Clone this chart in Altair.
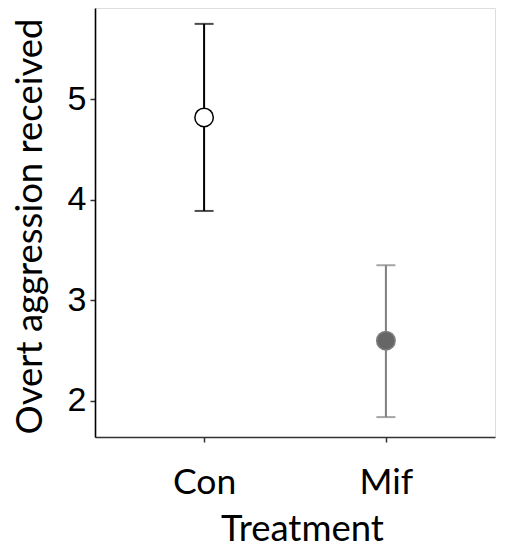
import altair as alt
import pandas as pd

treatment = ["Con", "Mif"]
mean = [4.82, 2.60]
upper = [5.75, 3.35]
lower = [3.89, 1.84]
point_fill = ["white", "#666666"]
bar_color = ["black", "#7f7f7f"]

df = pd.DataFrame({"Treatment": treatment, "mean": mean, "upper": upper,
                   "lower": lower, "fill": point_fill, "col": bar_color})
star = pd.DataFrame({"t": ["*"]})

YDOM = [1.642, 5.908]
xs = alt.Scale(type="point", domain=treatment, padding=0.6)
ys = alt.Scale(domain=YDOM, nice=False, zero=False)

x = alt.X("Treatment:N", scale=xs, axis=alt.Axis(
    title="Treatment", labelAngle=0, labelFont="Lato", labelFontSize=35.5,
    labelColor="black", labelBaseline="alphabetic", labelPadding=51,
    titleFont="Lato", titleFontSize=36.5, titleFontWeight="normal", titleColor="black",
    titleX=207, titleY=103, titleBaseline="alphabetic", titleAlign="center", titleAnchor="middle",
    domainColor="#333333", domainWidth=1.6, tickColor="#333333", tickSize=5, tickWidth=1.5,
    grid=False))
y = alt.Y("mean:Q", scale=ys, axis=alt.Axis(
    title="Overt aggression received", values=[2, 3, 4, 5], format="d",
    labelFont="Liberation Sans", labelFontSize=34, labelColor="black", labelPadding=4,
    titleFont="Lato", titleFontSize=36.5, titleFontWeight="normal", titleColor="black",
    titleX=-65, titleY=218, titleBaseline="middle", titleAlign="center", titleAngle=-90,
    domainColor="black", domainWidth=1.6, tickColor="#333333", tickSize=5, tickWidth=1.5,
    grid=False))

base = alt.Chart(df)
rules = base.mark_rule(strokeWidth=2).encode(
    x=x, y=alt.Y("lower:Q", scale=ys), y2="upper:Q",
    color=alt.Color("col:N", scale=None))
caps_u = base.mark_tick(orient="horizontal", size=19, thickness=2).encode(
    x=alt.X("Treatment:N", scale=xs), y=alt.Y("upper:Q", scale=ys),
    color=alt.Color("col:N", scale=None))
caps_l = base.mark_tick(orient="horizontal", size=19, thickness=2).encode(
    x=alt.X("Treatment:N", scale=xs), y=alt.Y("lower:Q", scale=ys),
    color=alt.Color("col:N", scale=None))
pts = base.mark_point(shape="circle", size=340, filled=True, strokeWidth=1.5,
                      opacity=1).encode(
    x=alt.X("Treatment:N", scale=xs), y=y,
    fill=alt.Fill("fill:N", scale=None),
    stroke=alt.Stroke("col:N", scale=None))
txt = alt.Chart(star).mark_text(font="Liberation Sans", fontSize=34, fontWeight="bold",
                                 baseline="middle", align="center").encode(
    x=alt.value(199), y=alt.value(-6), text="t:N")

chart = alt.layer(rules, caps_u, caps_l, pts, txt).properties(
    width=400, height=429,
    autosize=alt.AutoSizeParams(type="none"),
    padding={"left": 87, "top": 0, "right": 4, "bottom": 114},
).configure_view(stroke=None).configure(background="white")

chart.save("out.html", embed_options={"renderer": "svg", "actions": False})
